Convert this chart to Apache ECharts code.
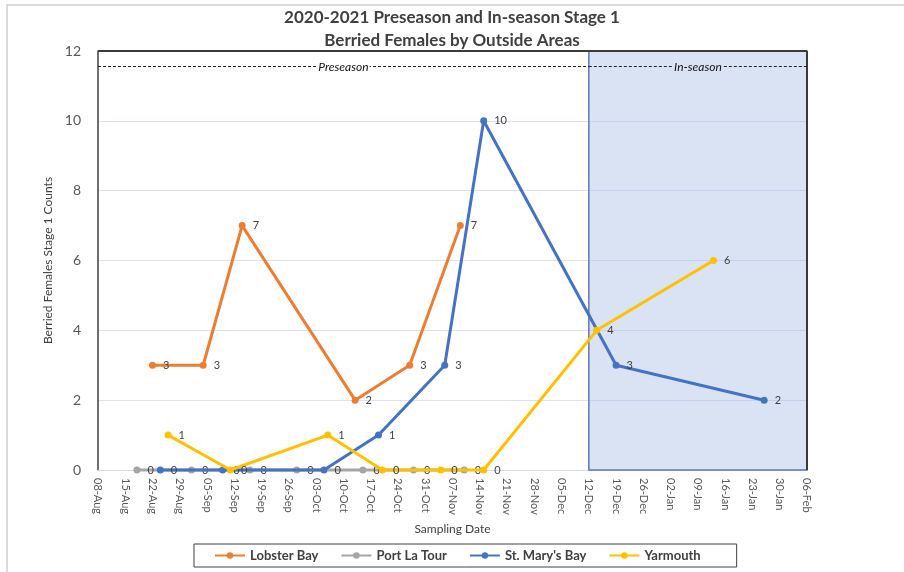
<!DOCTYPE html>
<html>
<head>
<meta charset="utf-8">
<script src="https://cdn.jsdelivr.net/npm/echarts@6/dist/echarts.min.js"></script>
<style>html,body{margin:0;padding:0;background:#fff;}#c{width:904px;height:572px;}</style>
</head>
<body>
<div id="c"></div>
<script>
// ---- data ----
const seriesNames = ["Lobster Bay", "Port La Tour", "St. Mary's Bay", "Yarmouth"];
const seriesColors = ["#ED7D31", "#A5A5A5", "#4472C4", "#FFC000"];

const lobsterDates = ["2020-08-22", "2020-09-04", "2020-09-14", "2020-10-13", "2020-10-27", "2020-11-09"];
const lobsterValues = [3, 3, 7, 2, 3, 7];

const portDates = ["2020-08-18", "2020-09-01", "2020-09-16", "2020-09-28", "2020-10-15", "2020-10-28", "2020-11-10"];
const portValues = [0, 0, 0, 0, 0, 0, 0];

const stMaryDates = ["2020-08-24", "2020-09-09", "2020-10-05", "2020-10-19", "2020-11-05", "2020-11-15", "2020-12-19", "2021-01-26"];
const stMaryValues = [0, 0, 0, 1, 3, 10, 3, 2];

const yarmouthDates = ["2020-08-26", "2020-09-11", "2020-10-06", "2020-10-20", "2020-11-04", "2020-11-15", "2020-12-14", "2021-01-13"];
const yarmouthValues = [1, 0, 1, 0, 0, 0, 4, 6];

const axisStart = "2020-08-08";
const axisEnd = "2021-02-06";
const inSeasonStart = "2020-12-12";
const yTicks = [0, 2, 4, 6, 8, 10, 12];
const monthNames = ["Jan","Feb","Mar","Apr","May","Jun","Jul","Aug","Sep","Oct","Nov","Dec"];

// ---- helpers ----
const DAY = 86400000;
function toUTC(s){ const p = s.split("-").map(Number); return Date.UTC(p[0], p[1]-1, p[2]); }
const t0 = toUTC(axisStart);
function dayOf(s){ return Math.round((toUTC(s) - t0) / DAY); }
function fmtDay(v){
  const d = new Date(t0 + v * DAY);
  const dd = String(d.getUTCDate()).padStart(2, "0");
  return dd + "-" + monthNames[d.getUTCMonth()];
}
function pairs(dates, vals){ return dates.map((d, i) => [dayOf(d), vals[i]]); }

const xMax = dayOf(axisEnd);
const xIn = dayOf(inSeasonStart);
const yMax = yTicks[yTicks.length - 1];
const seasonLineY = 11.57;

const allData = [
  pairs(lobsterDates, lobsterValues),
  pairs(portDates, portValues),
  pairs(stMaryDates, stMaryValues),
  pairs(yarmouthDates, yarmouthValues)
];

const font = "Lato, 'Open Sans', 'Liberation Sans', sans-serif";

const series = allData.map((data, i) => ({
  name: seriesNames[i],
  type: "line",
  data: data,
  clip: false,
  color: seriesColors[i],
  symbol: "circle",
  symbolSize: 7,
  lineStyle: { width: 3, color: seriesColors[i] },
  itemStyle: { color: seriesColors[i] },
  label: { show: true, position: "right", distance: 7, color: "#404040", fontSize: 11, fontFamily: font },
  z: 3 + i
}));

// decorative season area, frame and dashed divider on first series
series[0].markArea = {
  silent: true,
  itemStyle: { color: "rgba(172,194,230,0.45)", borderColor: "#5a78b8", borderWidth: 1.5 },
  data: [[{ coord: [xIn, 0] }, { coord: [xMax, yMax] }]]
};
series[0].markLine = {
  silent: true,
  symbol: "none",
  animation: false,
  data: [
    [{ coord: [0, yMax], lineStyle: { type: "solid", color: "#3a3a3a", width: 2 }, label: { show: false } }, { coord: [xMax, yMax] }],
    [{ coord: [xMax, 0], lineStyle: { type: "solid", color: "#3a3a3a", width: 2 }, label: { show: false } }, { coord: [xMax, yMax] }],
    [{ coord: [0, seasonLineY], lineStyle: { type: [3, 2], color: "#222", width: 1 },
       label: { show: true, position: "middle", formatter: "Preseason", fontStyle: "italic", fontSize: 12, color: "#111", fontFamily: font, backgroundColor: "#fff", padding: [0, 1], distance: -7 } },
     { coord: [xIn, seasonLineY] }],
    [{ coord: [xIn, seasonLineY], lineStyle: { type: [3, 2], color: "#222", width: 1 },
       label: { show: true, position: "middle", formatter: "In-season", fontStyle: "italic", fontSize: 12, color: "#111", fontFamily: font, backgroundColor: "#dae3f3", padding: [0, 1], distance: -7 } },
     { coord: [xMax, seasonLineY] }]
  ]
};

const chart = echarts.init(document.getElementById("c"), null, { renderer: "canvas" });
chart.setOption({
  animation: false,
  backgroundColor: "#fff",
  textStyle: { fontFamily: font },
  title: {
    text: "2020-2021 Preseason and In-season Stage 1\nBerried Females by Outside Areas",
    left: "center",
    top: 1,
    textStyle: { fontSize: 17, fontWeight: "bold", color: "#404040", lineHeight: 23, fontFamily: font }
  },
  graphic: [
    { type: "rect", silent: true, shape: { x: 7, y: 5, width: 1000, height: 1000 }, style: { fill: "none", stroke: "#cfcfcf", lineWidth: 1.5 } }
  ],
  legend: {
    bottom: 5,
    left: 194,
    data: seriesNames,
    borderColor: "#404040",
    borderWidth: 1,
    padding: [5, 36, 5, 20],
    itemGap: 22,
    itemWidth: 30,
    itemHeight: 8,
    textStyle: { fontSize: 13, fontWeight: "bold", color: "#404040", fontFamily: font }
  },
  grid: { left: 98, right: 97, top: 51, bottom: 102, containLabel: false },
  xAxis: {
    type: "value",
    min: 0,
    max: xMax,
    interval: 7,
    name: "Sampling Date",
    nameLocation: "middle",
    nameGap: 53,
    nameTextStyle: { fontSize: 12, color: "#404040", fontFamily: font },
    axisLine: { show: true, lineStyle: { color: "#d9d9d9", width: 1 } },
    axisTick: { show: false },
    splitLine: { show: false },
    axisLabel: { rotate: -90, margin: 8, fontSize: 11, color: "#595959", formatter: fmtDay, fontFamily: font }
  },
  yAxis: {
    type: "value",
    min: yTicks[0],
    max: yMax,
    interval: yTicks[1] - yTicks[0],
    name: "Berried Females Stage 1 Counts",
    nameLocation: "middle",
    nameGap: 42,
    nameTextStyle: { fontSize: 12, color: "#404040", fontFamily: font },
    axisLine: { show: true, lineStyle: { color: "#404040", width: 1.5 } },
    axisTick: { show: false },
    splitLine: { show: true, lineStyle: { color: "#d9e1f2", width: 1 } },
    axisLabel: { fontSize: 14, color: "#595959", margin: 17, fontFamily: font }
  },
  series: series
});
</script>
</body>
</html>
